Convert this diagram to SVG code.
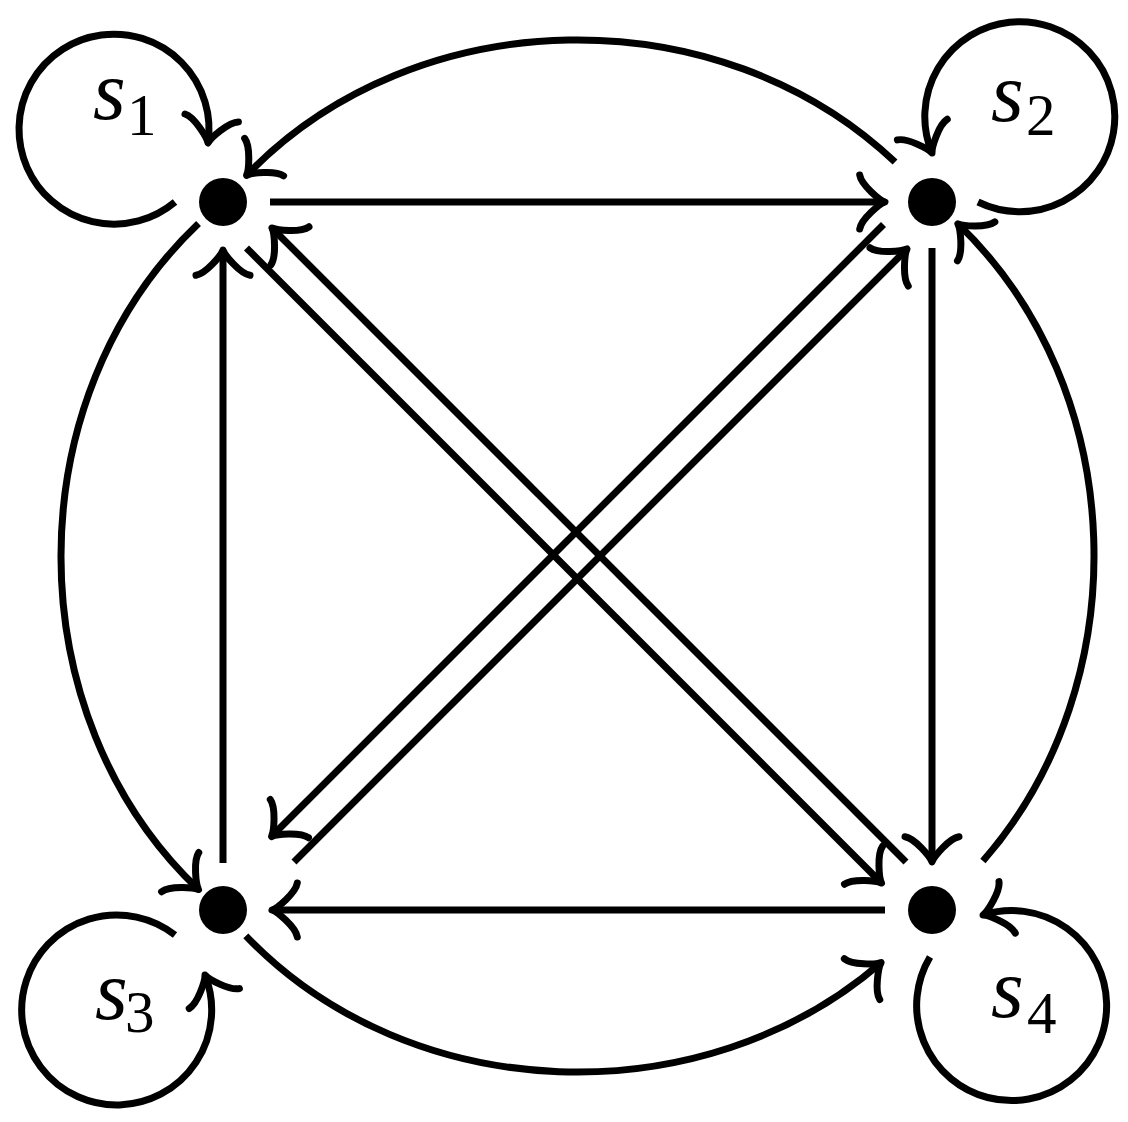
<svg xmlns="http://www.w3.org/2000/svg" width="1128" height="1122" viewBox="0 0 1128 1122">
<style>
.e{fill:none;stroke:#000;stroke-width:7;marker-end:url(#to)}
.n{fill:#000}
.lbl{font-family:"Liberation Serif","Times New Roman",serif;fill:#000}
.v{font-style:italic;font-size:84px}
.sub{font-size:59px}
</style>
<defs>
<marker id="to" markerUnits="userSpaceOnUse" orient="auto" refX="0" refY="0" markerWidth="60" markerHeight="60" overflow="visible">
<path d="M -25.3,-27 C -23.6,-16.9 -5.1,-1.7 0,0 C -5.1,1.7 -23.6,16.9 -25.3,27" fill="none" stroke="#000" stroke-width="7" stroke-linecap="round" stroke-linejoin="round"/>
</marker>
</defs>
<rect width="1128" height="1122" fill="#fff"/>
<g id="connectors">
<path class="e" d="M270,202 L885,202"/>
<path class="e" d="M885,910 L272,910"/>
<path class="e" d="M932,248 L932,862"/>
<path class="e" d="M223,863 L223,250"/>
<path class="e" d="M246.5,248 L881.5,883"/>
<path class="e" d="M906,862 L272,228"/>
<path class="e" d="M883.5,224.5 L271.5,836.5"/>
<path class="e" d="M294,862 L907,249"/>
<path class="e" d="M895.05,162.05 C718.95,-5.05 416,-0.6 246.57,175.33"/>
<path class="e" d="M198.53,223.46 C15.14,397.51 15.14,715.49 198.53,889.54"/>
<path class="e" d="M245.82,935.9 C410.73,1108.02 703.1,1116.9 881.16,962.54"/>
<path class="e" d="M982.94,861 C1138.94,683.11 1130.62,389.3 957.9,223.82"/>
<path class="e" d="M175,202 A95,95 0 1 1 208,143"/>
<path class="e" d="M978,202 A95,95 0 1 0 932,153"/>
<path class="e" d="M175,935 A95,95 0 1 0 205,975"/>
<path class="e" d="M930,957 A95,95 0 1 0 983,915"/>
</g>
<g id="s1">
<circle class="n" cx="223" cy="202" r="24"/>
<text class="lbl"><tspan class="v" x="93" y="119">s</tspan><tspan class="sub" x="127" y="135">1</tspan></text>
</g>
<g id="s2">
<circle class="n" cx="932" cy="202" r="24"/>
<text class="lbl"><tspan class="v" x="991" y="121">s</tspan><tspan class="sub" x="1026" y="135">2</tspan></text>
</g>
<g id="s3">
<circle class="n" cx="223" cy="910" r="24"/>
<text class="lbl"><tspan class="v" x="95" y="1019">s</tspan><tspan class="sub" x="125" y="1032">3</tspan></text>
</g>
<g id="s4">
<circle class="n" cx="932" cy="910" r="24"/>
<text class="lbl"><tspan class="v" x="991" y="1017">s</tspan><tspan class="sub" x="1027" y="1033">4</tspan></text>
</g>
</svg>
